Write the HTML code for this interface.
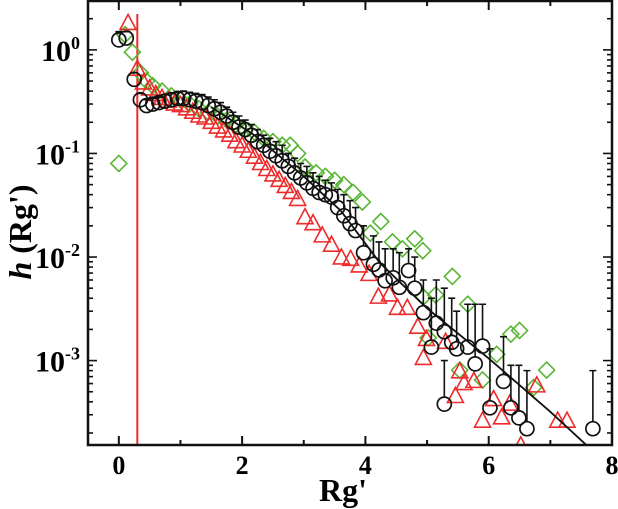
<!DOCTYPE html>
<html><head><meta charset="utf-8"><style>
html,body{margin:0;padding:0;background:#fff;}
svg{display:block;font-family:"Liberation Serif",serif;font-weight:bold;}
</style></head><body>
<svg id="chart" width="618" height="509">
<g id="plot"></g>
<g id="axes"></g>
</svg>
<script>
const circX=[0,0.12,0.25,0.35,0.45,0.55,0.65,0.75,0.85,0.95,1.05,1.15,1.25,1.35,1.45,1.55,1.65,1.75,1.85,1.95,2.05,2.15,2.25,2.35,2.45,2.55,2.65,2.75,2.85,2.95,3.05,3.15,3.25,3.35,3.45,3.55,3.65,3.75,3.84,3.97,4.13,4.22,4.32,4.45,4.55,4.70,4.80,4.94,5.07,5.15,5.28,5.28,5.40,5.48,5.66,5.78,5.90,6.02,6.24,6.36,6.49,6.62,7.69];
const circY=[1.25,1.3,0.52,0.33,0.29,0.3,0.31,0.32,0.33,0.34,0.34,0.33,0.32,0.31,0.29,0.27,0.25,0.23,0.2,0.18,0.17,0.15,0.13,0.12,0.105,0.095,0.085,0.075,0.065,0.058,0.052,0.046,0.042,0.04,0.038,0.03,0.025,0.021,0.018,0.011,0.0085,0.0075,0.0059,0.0063,0.0051,0.0074,0.005,0.0029,0.00135,0.0023,0.0019,0.00038,0.0015,0.0013,0.00135,0.00093,0.00138,0.00035,0.00063,0.00035,0.00028,0.00022,0.00022];
const circErr=[1.5,1.5,0.6,0.38,0.33,0.34,0.35,0.37,0.38,0.39,0.4,0.39,0.38,0.37,0.35,0.33,0.31,0.28,0.25,0.23,0.21,0.19,0.17,0.15,0.14,0.13,0.12,0.1,0.09,0.08,0.075,0.065,0.06,0.055,0.052,0.045,0.04,0.035,0.03,0.02,0.016,0.014,0.012,0.012,0.011,0.012,0.01,0.006,0.004,0.006,0.005,0.001,0.004,0.003,0.0035,0.0035,0.0035,0.0013,0.0017,0.0009,0.0009,0.0008,0.0008];
const triX=[0.15,0.3,0.4,0.5,0.6,0.7,0.8,0.9,1.0,1.1,1.2,1.3,1.4,1.5,1.6,1.7,1.8,1.9,2.0,2.1,2.2,2.3,2.4,2.5,2.6,2.7,2.8,2.9,3.02,3.15,3.3,3.45,3.61,3.76,3.9,4.06,4.21,4.39,4.52,4.68,4.85,4.94,4.99,5.3,5.46,5.53,5.6,5.76,5.9,6.08,6.21,6.34,6.52,6.78,7.12,7.27];
const triY=[1.8,0.65,0.48,0.42,0.37,0.34,0.32,0.3,0.29,0.27,0.25,0.23,0.22,0.2,0.18,0.165,0.15,0.13,0.118,0.105,0.092,0.08,0.07,0.062,0.055,0.048,0.042,0.036,0.024,0.021,0.016,0.013,0.0098,0.0095,0.0082,0.0068,0.0041,0.0043,0.0032,0.0032,0.0021,0.00105,0.0016,0.0015,0.00045,0.00078,0.0006,0.00063,0.00026,0.00042,0.00028,0.00038,0.00015,0.00057,0.00026,0.00026];
const diaX=[0,0.1,0.22,0.35,0.45,0.55,0.7,0.85,1.0,1.15,1.3,1.45,1.6,1.75,1.9,2.05,2.2,2.35,2.5,2.65,2.78,2.9,3.02,3.2,3.35,3.5,3.65,3.8,3.95,4.08,4.25,4.44,4.6,4.8,4.93,4.94,5.02,5.14,5.41,5.53,5.66,5.9,6.13,6.36,6.5,6.73,6.94];
const diaY=[0.08,1.4,0.95,0.6,0.5,0.45,0.4,0.36,0.33,0.3,0.27,0.25,0.23,0.21,0.19,0.17,0.16,0.14,0.13,0.12,0.12,0.1,0.074,0.065,0.06,0.055,0.05,0.042,0.034,0.017,0.022,0.014,0.012,0.015,0.0115,0.0041,0.00166,0.0043,0.0065,0.00081,0.0035,0.00065,0.00115,0.0018,0.00195,0.00055,0.00081];
const fitX=[1.5,2.2,3.0,3.6,4.24,5.0,6.0,7.0,7.6];
const fitY=[0.28,0.15,0.06,0.028,0.0087,0.0032,0.00105,0.00032,0.00015];
const xTicks=[0,2,4,6,8];
const yTickExp=[0,-1,-2,-3];

const L=88,R=612,T=1,B=445;
const xMin=-0.5,xMax=8;
const yTop=0.472,yBot=-3.815;
const sx=v=>L+(v-xMin)/(xMax-xMin)*(R-L);
const sy=v=>T+(yTop-Math.log10(v))/(yTop-yBot)*(B-T);
const NS="http://www.w3.org/2000/svg";
function mk(tag,attrs,parent){const e=document.createElementNS(NS,tag);for(const k in attrs)e.setAttribute(k,attrs[k]);parent.appendChild(e);return e;}
const plot=document.getElementById('plot'),axes=document.getElementById('axes');
const defs=mk('defs',{},plot);
const cp=mk('clipPath',{id:'cp'},defs);mk('rect',{x:L,y:T,width:R-L,height:B-T},cp);
const g=mk('g',{'clip-path':'url(#cp)'},plot);

const vl=mk('line',{x1:sx(0.3),x2:sx(0.3),y1:14,y2:B,stroke:'#ee2a2a','stroke-width':2},g);



diaX.forEach((x,i)=>{const cx=sx(x),cy=sy(diaY[i]),r=8;
 const p=mk('polygon',{points:`${cx},${cy-r} ${cx+r},${cy} ${cx},${cy+r} ${cx-r},${cy}`,fill:'none',stroke:'#5ab535','stroke-width':1.6},g);
 
 });
triX.forEach((x,i)=>{const cx=sx(x),cy=sy(triY[i]);
 const p=mk('polygon',{points:`${cx},${cy-9} ${cx+8},${cy+6} ${cx-8},${cy+6}`,fill:'none',stroke:'#ee2a2a','stroke-width':1.6},g);
 
 });
const fl=mk('polyline',{points:fitX.map((x,i)=>sx(x)+','+sy(fitY[i])).join(' '),fill:'none',stroke:'#111','stroke-width':1.8},g);


circX.forEach((x,i)=>{const cx=sx(x),cy=sy(circY[i]),ty=sy(circErr[i]);
 const e=mk('path',{d:`M${cx},${cy-7}V${ty}M${cx-3.5},${ty}H${cx+3.5}`,stroke:'#111','stroke-width':1.6,fill:'none'},g);
 
 
 const c=mk('circle',{cx:cx,cy:cy,r:7,fill:'none',stroke:'#111','stroke-width':1.7},g);
 
 });

const fr=mk('rect',{x:L,y:T,width:R-L,height:B-T,fill:'none',stroke:'#111','stroke-width':2.5},axes);


for(let v=0;v<=8;v+=1){const x=sx(v),len=(v%2==0)?9:5;
 mk('line',{x1:x,x2:x,y1:B,y2:B-len,stroke:'#111','stroke-width':2},axes);
 mk('line',{x1:x,x2:x,y1:T,y2:T+len,stroke:'#111','stroke-width':2},axes);}
xTicks.forEach(v=>{const t=mk('text',{x:sx(v),y:474,'text-anchor':'middle','font-size':26},axes);t.textContent=v;
 
 });
for(let e=-4;e<=0;e++){for(let m=1;m<=9;m++){const v=m*Math.pow(10,e);if(v<1.5e-4||v>2.97)continue;const y=sy(v),len=m==1?9:5;
 mk('line',{x1:L,x2:L+len,y1:y,y2:y,stroke:'#111','stroke-width':1.6},axes);
 mk('line',{x1:R,x2:R-len,y1:y,y2:y,stroke:'#111','stroke-width':1.6},axes);}}
yTickExp.forEach(e=>{const t=mk('text',{x:80,y:sy(Math.pow(10,e))+11,'text-anchor':'end','font-size':30},axes);
 t.innerHTML=`10<tspan dy="-12" font-size="18">${e}</tspan>`;
 
 });
</script>
<svg style="position:absolute;left:0;top:0" width="618" height="509">
<text x="31" y="232" transform="rotate(-90 31 232)" text-anchor="middle" font-size="32" font-family="Liberation Serif,serif" font-weight="bold"><tspan font-style="italic">h</tspan> (Rg')</text>
<text x="343" y="501" text-anchor="middle" font-size="32" font-family="Liberation Serif,serif" font-weight="bold">Rg'</text>
</svg>
</body></html>
